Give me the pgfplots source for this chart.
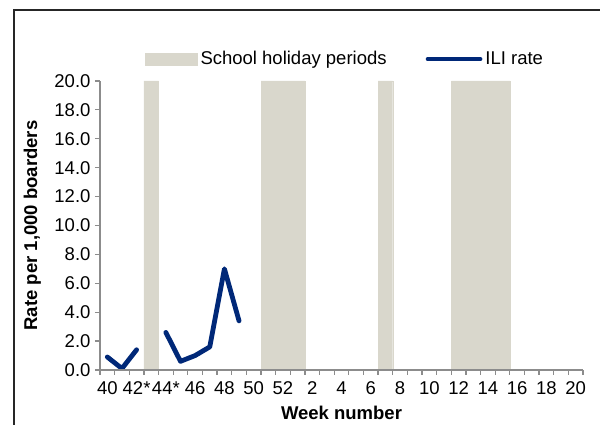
\documentclass[border=0pt]{standalone}
\usepackage{fontspec}
\setmainfont{Liberation Sans}
\usepackage{pgfplots}
\pgfplotsset{compat=1.18}
\definecolor{holiday}{RGB}{217,215,204}
\definecolor{ili}{RGB}{0,40,120}
\definecolor{axgray}{RGB}{140,140,140}
\begin{document}
\begin{tikzpicture}[x=1pt,y=1pt]
\useasboundingbox (0,0) rectangle (600,425);
\draw[line width=1.8pt, black!85] (14,-20) -- (14,415) -- (620,415);
\begin{axis}[
  at={(100pt,55pt)}, anchor=south west,
  scale only axis, width=483pt, height=289pt,
  xmin=-0.5, xmax=32.5, ymin=0, ymax=20,
  axis x line*=bottom, axis y line*=left,
  axis line style={axgray, line width=1.2pt},
  axis on top,
  tick align=outside,
  major tick length=5pt, minor tick length=5pt,
  tick style={axgray, line width=1.2pt},
  ytick={0,2,...,20},
  xtick={0,2,...,32},
  xticklabels={40,42*,44*,46,48,50,52,2,4,6,8,10,12,14,16,18,20},
  every major x tick/.style={draw=none},
  minor xtick={-0.5,0.5,...,32.5},
  /pgf/number format/assume math mode=true,
  yticklabel style={xshift=-1pt, /pgf/number format/.cd, fixed, fixed zerofill, precision=1},
  ticklabel style={font=\fontsize{18.5}{22}\selectfont},
  xticklabel style={yshift=-3pt},
  every axis y label/.style={at={(axis description cs:-0.14,0.5)}, rotate=90, anchor=center},
  every axis x label/.style={at={(axis description cs:0.5,-0.149)}, anchor=center},
  label style={font=\fontsize{18.5}{22}\selectfont\bfseries},
  ylabel={Rate per 1,000 boarders},
  xlabel={Week number},
  legend columns=2,
  legend style={draw=none, fill=none, at={(axis description cs:0.0932,1.076)}, anchor=west,
    inner sep=0pt, font=\fontsize{18.5}{22}\selectfont,
    /tikz/every even column/.append style={column sep=36pt},
    nodes={inner sep=3pt}},
]
\addplot[ybar, bar width=1, fill=holiday, draw=holiday, line width=0.3pt,
  legend image code/.code={\fill[holiday] (0pt,-6pt) rectangle (52pt,6pt);}]
  coordinates {(3,20)(11,20)(12,20)(13,20)(19,20)(24,20)(25,20)(26,20)(27,20)};
\addlegendentry{School holiday periods}
\addplot[ili, line width=4.8pt, line join=round, line cap=round, unbounded coords=jump,
  legend image code/.code={\draw[ili,line width=4.8pt,line cap=round] (2pt,0pt) -- (54pt,0pt);}]
  coordinates {(0,0.9)(1,0.1)(2,1.4)(3,nan)(4,2.6)(5,0.6)(6,1.0)(7,1.6)(8,7.0)(9,3.4)};
\addlegendentry{ILI rate}
\end{axis}
\end{tikzpicture}
\end{document}
